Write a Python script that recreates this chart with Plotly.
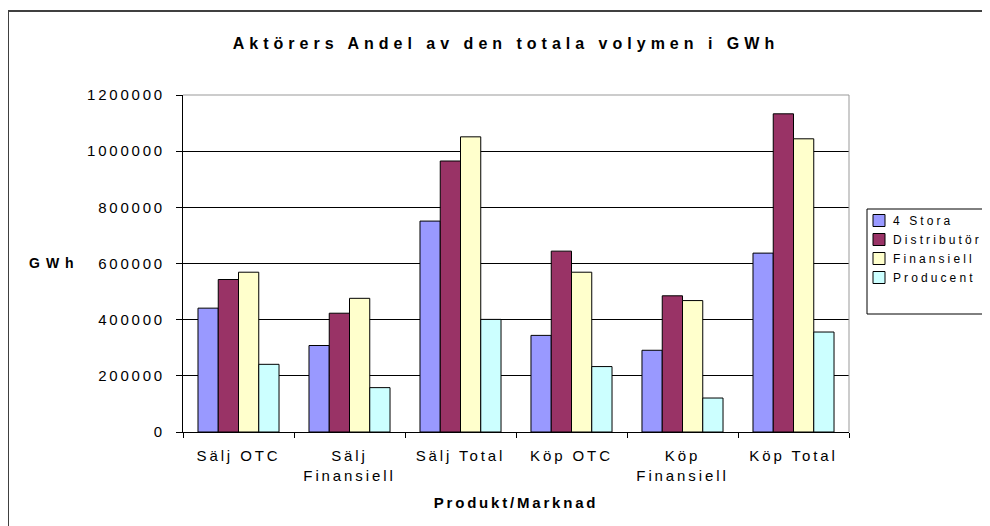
import plotly.graph_objects as go

categories = ["Sälj OTC", "Sälj<br>Finansiell", "Sälj Total", "Köp OTC", "Köp<br>Finansiell", "Köp Total"]
series_names = ["4 Stora", "Distributör", "Finansiell", "Producent"]
stora = [441000, 308000, 751000, 344000, 291000, 637000]
distributor = [543000, 423000, 965000, 644000, 485000, 1133000]
finansiell = [569000, 476000, 1051000, 569000, 468000, 1044000]
producent = [241000, 158000, 401000, 233000, 121000, 356000]
colors = ["#9999FF", "#993366", "#FFFFCC", "#CCFFFF"]
y_ticks = [0, 200000, 400000, 600000, 800000, 1000000, 1200000]

FONT = "Arial, Liberation Sans, sans-serif"
W, H = 990, 526
OFF = 8  # page body margin offset in the screenshot
# plot area in screenshot pixels
PX0, PX1, PY0, PY1 = 183, 849, 95, 432
L, T = PX0 - OFF, PY0 - OFF
pw, ph = PX1 - PX0, PY1 - PY0
R, B = W - L - pw, H - T - ph

def sx(p):
    return (p - PX0) / pw

def sy(p):
    return (PY1 - p) / ph

fig = go.Figure()
for name, vals, c in zip(series_names, [stora, distributor, finansiell, producent], colors):
    fig.add_trace(go.Bar(x=categories, y=vals, name=name, marker=dict(color=c, line=dict(color="black", width=1))))

fig.update_layout(
    width=W, height=H,
    margin=dict(l=L, r=R, t=T, b=B, autoexpand=False),
    paper_bgcolor="white", plot_bgcolor="white",
    barmode="group", bargap=0.27, bargroupgap=0,
    font=dict(family=FONT, size=15, color="black"),
    title=dict(text="<b>Aktörers Andel av den totala volymen i GWh</b>", font=dict(size=16, family=FONT),
               x=sx(506), xref="paper", xanchor="center", y=1 - (43 - OFF) / H, yref="container", yanchor="middle"),
    legend=dict(x=sx(853), y=sy(206), xanchor="left", yanchor="top", borderwidth=0,
                font=dict(size=12, family=FONT), bgcolor="rgba(0,0,0,0)", tracegroupgap=0, itemwidth=30),
    showlegend=True,
)
fig.update_xaxes(showline=True, linecolor="black", linewidth=1, ticks="outside", ticklen=5, tickcolor="black",
                 tickson="boundaries", tickfont=dict(size=15), showgrid=False, ticklabelstandoff=10,
                 title=dict(text="<b>Produkt/Marknad</b>", font=dict(size=15), standoff=14))
fig.update_yaxes(range=[0, 1200000], tickvals=y_ticks, ticktext=[str(v) for v in y_ticks],
                 showline=True, linecolor="black", linewidth=1, ticks="outside", ticklen=6, tickcolor="black",
                 showgrid=True, gridcolor="black", gridwidth=1, zeroline=False, tickfont=dict(size=15),
                 ticklabelstandoff=8)
fig.add_annotation(text="<b>GWh</b>", x=sx(54), y=sy(263), xref="paper", yref="paper", showarrow=False,
                   font=dict(size=14, family=FONT), xanchor="center", yanchor="middle")
# plot area gray top/right border
fig.add_shape(type="line", x0=0, x1=1, y0=1, y1=1, xref="paper", yref="paper", line=dict(color="#999999", width=1), layer="above")
fig.add_shape(type="line", x0=1, x1=1, y0=0, y1=1, xref="paper", yref="paper", line=dict(color="#999999", width=1), layer="above")
# legend box (extends beyond right edge like reference)
fig.add_shape(type="rect", x0=sx(867), x1=sx(1010), y0=sy(314), y1=sy(209), xref="paper", yref="paper",
              line=dict(color="black", width=1), fillcolor="rgba(0,0,0,0)", layer="above")
# outer chart border (extends beyond image on right/bottom)
fig.add_shape(type="rect", x0=sx(8), x1=sx(1010), y0=sy(545), y1=sy(11), xref="paper", yref="paper",
              line=dict(color="#404040", width=2), fillcolor="rgba(0,0,0,0)", layer="below")

post = """
var gd = document.getElementById('{plot_id}');
function ls(sel, v) { gd.querySelectorAll(sel).forEach(function(t) { t.style.letterSpacing = v; }); }
ls('.gtitle', '5px');
ls('.xtick text', '2.9px');
ls('.ytick text', '2.8px');
ls('.xtitle', '2.8px');
ls('.legendtext', '3.1px');
ls('.annotation-text', '6px');
gd.querySelectorAll('.legend .scrollbox, .legend').forEach(function(g) { g.removeAttribute('clip-path'); });
gd.querySelectorAll('.legend .bg').forEach(function(r) { r.setAttribute('width', '300'); });
gd.querySelectorAll('.legend .legendpoints').forEach(function(g) {
  g.setAttribute('transform', ((g.getAttribute('transform') || '') + ' translate(6,0)').trim());
});
"""

fig.write_html("out.html", post_script=post)
